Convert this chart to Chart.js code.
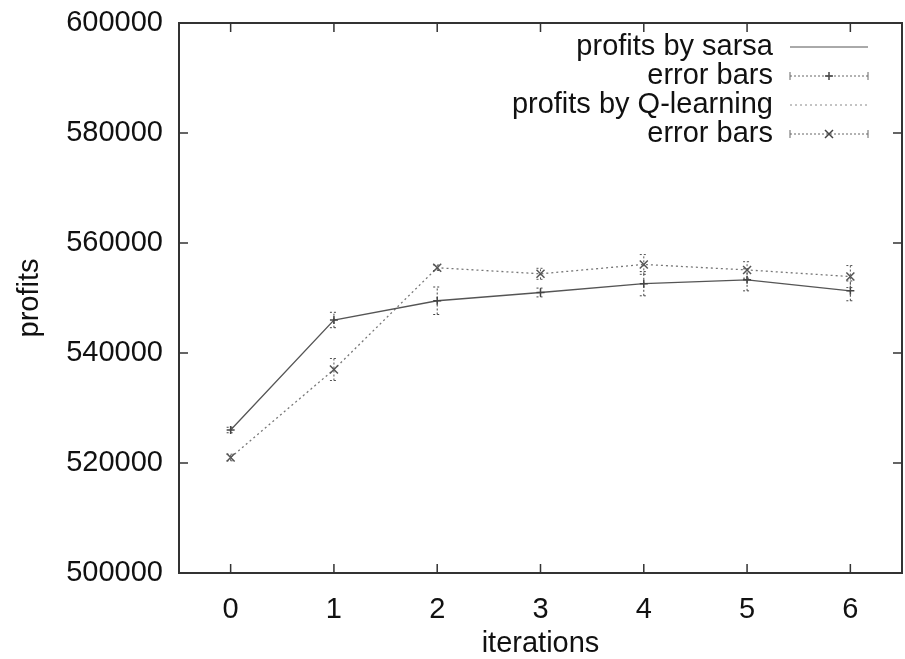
<!DOCTYPE html>
<html>
<head>
<meta charset="utf-8">
<script src="https://cdn.jsdelivr.net/npm/chart.js@4"></script>
<style>
  html, body { margin: 0; padding: 0; background: #fff; }
  #wrap { width: 905px; height: 659px; }
</style>
</head>
<body>
<div id="wrap"><canvas id="c" width="905" height="659"></canvas></div>
<script>
let iterations = [0, 1, 2, 3, 4, 5, 6]
let sarsa = [526000, 546000, 549500, 551000, 552600, 553300, 551300]
let sarsaErr = [500, 1400, 2500, 800, 2200, 2000, 1800]
let qlearn = [521000, 537000, 555500, 554400, 556100, 555100, 553900]
let qlearnErr = [600, 2000, 500, 1000, 1800, 1500, 2000]
let yTicks = [500000, 520000, 540000, 560000, 580000, 600000]

const FAMILY = '"Liberation Sans", Arial, sans-serif'
const FONT = '29px ' + FAMILY
const LEGEND = ['profits by sarsa', 'error bars', 'profits by Q-learning', 'error bars']

function pts(vals) {
    return iterations.map((x, i) => ({ x: x, y: vals[i] }))
}

// draws crosses / x marks ourselves so they look like gnuplot points
function mark(ctx, x, y, style, r) {
    ctx.beginPath()
    if (style == 'plus') {
        ctx.moveTo(x - r, y); ctx.lineTo(x + r, y)
        ctx.moveTo(x, y - r); ctx.lineTo(x, y + r)
    } else {
        ctx.moveTo(x - r, y - r); ctx.lineTo(x + r, y + r)
        ctx.moveTo(x - r, y + r); ctx.lineTo(x + r, y - r)
    }
    ctx.stroke()
}

function errBar(ctx, x, y1, y2, cap) {
    ctx.beginPath()
    ctx.moveTo(x, y1); ctx.lineTo(x, y2)
    ctx.moveTo(x - cap, y1); ctx.lineTo(x + cap, y1)
    ctx.moveTo(x - cap, y2); ctx.lineTo(x + cap, y2)
    ctx.stroke()
}

const gnuplotLook = {
    id: 'gnuplotLook',
    afterDatasetsDraw(chart) {
        const ctx = chart.ctx
        const xs = chart.scales.x
        const ys = chart.scales.y
        const area = chart.chartArea
        const series = [
            { vals: sarsa, err: sarsaErr, color: '#444', style: 'plus' },
            { vals: qlearn, err: qlearnErr, color: '#555', style: 'cross' }
        ]
        ctx.save()
        ctx.lineWidth = 1
        series.forEach(s => {
            ctx.strokeStyle = s.color
            iterations.forEach((it, i) => {
                let px = xs.getPixelForValue(it)
                ctx.setLineDash([2, 2])
                errBar(ctx, px, ys.getPixelForValue(s.vals[i] - s.err[i]), ys.getPixelForValue(s.vals[i] + s.err[i]), 4)
                ctx.setLineDash([])
                ctx.lineWidth = 1.5
                mark(ctx, px, ys.getPixelForValue(s.vals[i]), s.style, 4)
                ctx.lineWidth = 1
            })
        })

        // border box and inward ticks (mirrored)
        ctx.strokeStyle = '#333'
        ctx.lineWidth = 2
        ctx.strokeRect(area.left, area.top, area.right - area.left, area.bottom - area.top)
        ctx.lineWidth = 1.5
        ctx.beginPath()
        xs.ticks.forEach(t => {
            let px = xs.getPixelForValue(t.value)
            ctx.moveTo(px, area.bottom); ctx.lineTo(px, area.bottom - 9)
            ctx.moveTo(px, area.top); ctx.lineTo(px, area.top + 9)
        })
        ys.ticks.forEach(t => {
            let py = ys.getPixelForValue(t.value)
            ctx.moveTo(area.left, py); ctx.lineTo(area.left + 9, py)
            ctx.moveTo(area.right, py); ctx.lineTo(area.right - 9, py)
        })
        ctx.stroke()

        // axis titles
        ctx.fillStyle = '#111'
        ctx.font = FONT
        ctx.textAlign = 'center'
        ctx.textBaseline = 'middle'
        ctx.fillText('iterations', (area.left + area.right) / 2, 644)
        ctx.save()
        ctx.translate(30, (area.top + area.bottom) / 2)
        ctx.rotate(-Math.PI / 2)
        ctx.fillText('profits', 0, 0)
        ctx.restore()

        // legend, gnuplot style: text right aligned, sample on the right
        let rows = [47, 76, 105, 134]
        let sx1 = 790, sx2 = 868, tx = 773
        ctx.textAlign = 'right'
        LEGEND.forEach((txt, i) => {
            ctx.fillStyle = '#111'
            ctx.fillText(txt, tx, rows[i])
        })
        ctx.lineWidth = 1
        ctx.strokeStyle = '#555'
        ctx.beginPath(); ctx.moveTo(sx1, rows[0]); ctx.lineTo(sx2, rows[0]); ctx.stroke()
        ctx.strokeStyle = '#888'
        ctx.setLineDash([2, 3])
        ctx.beginPath(); ctx.moveTo(sx1, rows[2]); ctx.lineTo(sx2, rows[2]); ctx.stroke()
        ;[[rows[1], 'plus'], [rows[3], 'cross']].forEach(r => {
            ctx.strokeStyle = '#666'
            ctx.setLineDash([2, 2])
            ctx.beginPath(); ctx.moveTo(sx1, r[0]); ctx.lineTo(sx2, r[0]); ctx.stroke()
            ctx.setLineDash([])
            ctx.beginPath()
            ctx.moveTo(sx1, r[0] - 4); ctx.lineTo(sx1, r[0] + 4)
            ctx.moveTo(sx2, r[0] - 4); ctx.lineTo(sx2, r[0] + 4)
            ctx.stroke()
            ctx.strokeStyle = '#444'
            ctx.lineWidth = 1.5
            mark(ctx, (sx1 + sx2) / 2, r[0], r[1], 4)
            ctx.lineWidth = 1
        })
        ctx.restore()
    }
}

let chart = new Chart(document.getElementById('c'), {
    type: 'scatter',
    data: {
        datasets: [{
            label: LEGEND[0],
            data: pts(sarsa),
            showLine: true,
            borderColor: '#555',
            borderWidth: 1.3,
            pointRadius: 0,
            tension: 0
        }, {
            label: LEGEND[2],
            data: pts(qlearn),
            showLine: true,
            borderColor: '#777',
            borderWidth: 1.3,
            borderDash: [2, 3],
            pointRadius: 0,
            tension: 0
        }]
    },
    options: {
        responsive: false,
        animation: false,
        layout: { padding: { top: 23, right: 3, left: 0, bottom: 0 } },
        plugins: { legend: { display: false }, tooltip: { enabled: false } },
        scales: {
            x: {
                type: 'linear',
                min: -0.5,
                max: 6.5,
                afterBuildTicks: s => { s.ticks = iterations.map(v => ({ value: v })) },
                afterFit: s => { s.height = 86; s.paddingLeft = 0; s.paddingRight = 0 },
                grid: { display: false, drawTicks: false },
                border: { display: false },
                ticks: { color: '#111', font: { family: FAMILY, size: 29 }, padding: 20, callback: v => String(v) }
            },
            y: {
                min: 500000,
                max: 600000,
                afterBuildTicks: s => { s.ticks = yTicks.map(v => ({ value: v })) },
                afterFit: s => { s.width = 179; s.paddingTop = 0; s.paddingBottom = 0 },
                grid: { display: false, drawTicks: false },
                border: { display: false },
                ticks: { color: '#111', font: { family: FAMILY, size: 29 }, padding: 16, callback: v => String(v) }
            }
        }
    },
    plugins: [gnuplotLook]
})
</script>
</body>
</html>
